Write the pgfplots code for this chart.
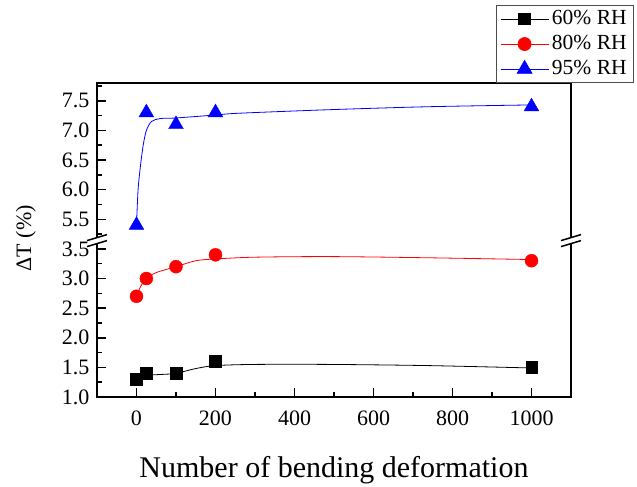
\documentclass[border=0pt]{standalone}
\usepackage{fontspec}
\setmainfont{Liberation Serif}
\usepackage{pgfplots}
\pgfplotsset{compat=1.18}

\begin{document}
\begin{tikzpicture}
% broken y axis: values above the gap are drawn 1.5 lower
\begin{axis}[
  at={(0pt,0pt)}, anchor=south west,
  scale only axis,
  width=474pt, height=314pt,
  xmin=-100, xmax=1100,
  ymin=1, ymax=6.3,
  xtick={0,200,400,600,800,1000},
  minor xtick={100,300,500,700,900},
  ytick={1,1.5,2,2.5,3,3.5,4,4.5,5,5.5,6},
  yticklabels={1.0,1.5,2.0,2.5,3.0,3.5,5.5,6.0,6.5,7.0,7.5},
  minor ytick={1.25,1.75,2.25,2.75,3.25,3.75,4.25,4.75,5.25,5.75,6.25},
  tick pos=left, tick align=inside,
  major tick length=9pt, minor tick length=5pt,
  tick style={line width=1.5pt, black},
  axis line style={line width=1.5pt},
  /pgf/number format/1000 sep={},
  /pgf/number format/assume math mode=true,
  tick label style={font=\fontsize{22}{26}\selectfont},
  xticklabel style={yshift=-10pt},
  yticklabel style={xshift=-4pt},
  xlabel={Number of bending deformation},
  ylabel={ΔT (\%)},
  xlabel style={font=\fontsize{30}{35}\selectfont, at={(axis description cs:0.5,-0.232)}, anchor=center},
  ylabel style={font=\fontsize{22}{26}\selectfont, at={(axis description cs:-0.150,0.506)}, anchor=center},
  clip=false,
  legend style={at={(rel axis cs:1.133,1.248)}, anchor=north east,
    draw=black!70, line width=0.8pt, fill=white,
    font=\fontsize{21.5}{24}\selectfont, row sep=0pt,
    inner xsep=4pt, inner ysep=1pt,
    nodes={inner xsep=3pt, inner ysep=2.5pt, text height=15pt, text depth=5pt}},
  legend cell align=left,
  legend image code/.code={\draw[mark repeat=2, mark phase=2, sharp plot, line width=0.8pt]
    plot coordinates {(0pt,0pt) (24pt,0pt) (48pt,0pt)};},
]
% fitted curves
\addplot[black, line width=0.8pt, smooth, forget plot] coordinates {
  (25,1.37) (60,1.38) (100,1.40) (150,1.48) (200,1.53) (300,1.55) (490,1.55) (740,1.53) (1000,1.49)
};
\addplot[red, line width=0.8pt, smooth, forget plot] coordinates {
  (0,2.7) (10,2.86) (25,3.0) (50,3.1) (100,3.2) (150,3.3) (200,3.33) (300,3.36) (490,3.37) (740,3.35) (1000,3.32)
};
\addplot[blue, line width=0.8pt, smooth, forget plot, y filter/.expression={y-1.5}] coordinates {
  (0,5.4) (4,6.0) (10,6.4) (17,6.75) (25,7.0) (38,7.15) (60,7.2) (100,7.21) (200,7.26) (260,7.29) (490,7.35) (740,7.40) (1000,7.43)
};
% measured points
\addplot[black, only marks, mark=square*, mark size=5.8pt] coordinates {
  (0,1.3) (25,1.4) (100,1.4) (200,1.6) (1000,1.5)
};
\addplot[red, only marks, mark=*, mark size=6.5pt] coordinates {
  (0,2.7) (25,3.0) (100,3.2) (200,3.4) (1000,3.3)
};
\addplot[blue, only marks, mark=triangle*, mark size=8.5pt, y filter/.expression={y-1.5}] coordinates {
  (0,5.4) (25,7.3) (100,7.1) (200,7.3) (1000,7.4)
};
\legend{60\% RH, 80\% RH, 95\% RH}
% break marks on both side lines
\draw[white, line width=5pt] ([xshift=-8pt,yshift=-2.4pt]axis cs:-100,3.64) -- ([xshift=8pt,yshift=2.4pt]axis cs:-100,3.64);
\draw[line width=1.5pt] ([xshift=-10pt,yshift=-6pt]axis cs:-100,3.64) -- ([xshift=10pt,yshift=0pt]axis cs:-100,3.64);
\draw[line width=1.5pt] ([xshift=-10pt,yshift=0pt]axis cs:-100,3.64) -- ([xshift=10pt,yshift=6pt]axis cs:-100,3.64);
\draw[white, line width=5pt] ([xshift=-8pt,yshift=-2.4pt]axis cs:1100,3.64) -- ([xshift=8pt,yshift=2.4pt]axis cs:1100,3.64);
\draw[line width=1.5pt] ([xshift=-10pt,yshift=-6pt]axis cs:1100,3.64) -- ([xshift=10pt,yshift=0pt]axis cs:1100,3.64);
\draw[line width=1.5pt] ([xshift=-10pt,yshift=0pt]axis cs:1100,3.64) -- ([xshift=10pt,yshift=6pt]axis cs:1100,3.64);
\end{axis}
\path[use as bounding box] (-97pt,-87pt) rectangle (540pt,397pt);
\end{tikzpicture}
\end{document}
